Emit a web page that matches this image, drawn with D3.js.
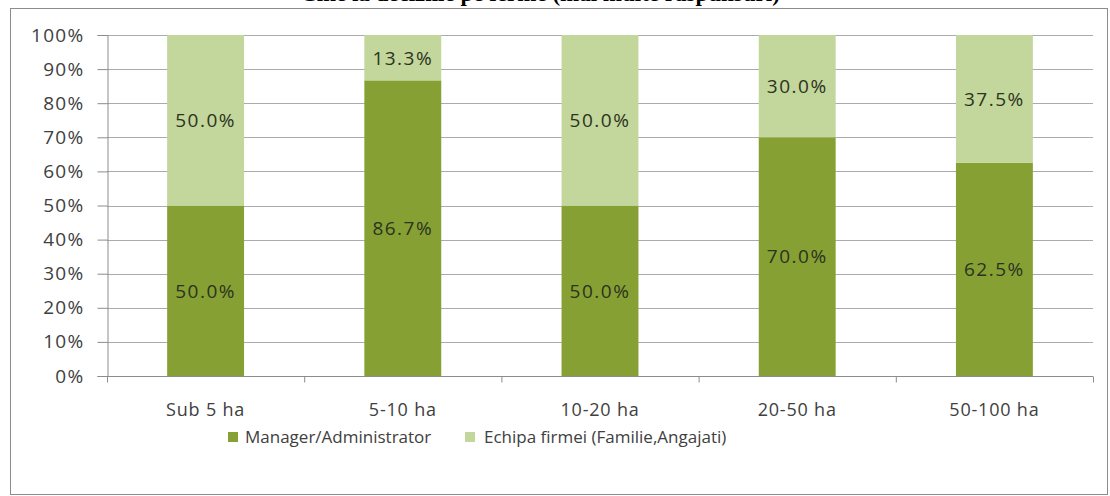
<!DOCTYPE html>
<html><head><meta charset="utf-8">
<script src="https://cdn.jsdelivr.net/npm/d3@7"></script>
<style>body{margin:0;background:#fff;} svg{display:block;}</style>
</head><body>
<svg id="chart" width="1110" height="496"></svg>
<script>
const categories = ["Sub 5 ha", "5-10 ha", "10-20 ha", "20-50 ha", "50-100 ha"];
const seriesNames = ["Manager/Administrator", "Echipa firmei (Familie,Angajati)"];
const manager = [50.0, 86.7, 50.0, 70.0, 62.5];
const echipa = [50.0, 13.3, 50.0, 30.0, 37.5];
const yTicks = [0, 10, 20, 30, 40, 50, 60, 70, 80, 90, 100];
const colors = ["#87a034", "#c3d69b"];
const titleText = "Cine ia deciziile pe ferme (mai multe raspunsuri)";

const svg = d3.select("#chart");
const font = "'Open Sans', 'Noto Sans', sans-serif";

// frame
svg.append("rect").attr("x", 10.5).attr("y", 8.5).attr("width", 1097).attr("height", 486)
  .attr("fill", "#fff").attr("stroke", "#8c8c8c").attr("stroke-width", 1);

// title (cut at the top, as in the reference)
svg.append("text").attr("x", 540).attr("y", 1).attr("text-anchor", "middle")
  .attr("font-family", "'Liberation Serif', serif").attr("font-weight", "bold")
  .attr("font-size", 23).attr("fill", "#000").text(titleText);

const x = d3.scaleBand().domain(categories).range([107, 1093]).paddingInner(0.61).paddingOuter(0.305);
const y = d3.scaleLinear().domain([0, 100]).range([376, 35]);

// gridlines
svg.append("g").selectAll("line").data(yTicks.filter(d => d > 0)).join("line")
  .attr("x1", 107).attr("x2", 1093).attr("y1", d => Math.round(y(d)) + 0.5).attr("y2", d => Math.round(y(d)) + 0.5)
  .attr("stroke", "#ababab").attr("stroke-width", 1);

// y axis
const yAxis = svg.append("g").attr("transform", "translate(107.5,0)")
  .call(d3.axisLeft(y).tickValues(yTicks).tickFormat(d => d + "%").tickSize(10).tickPadding(13));
yAxis.select(".domain").attr("stroke", "#8c8c8c");
yAxis.selectAll(".tick line").attr("stroke", "#8c8c8c");
yAxis.selectAll("text").attr("font-family", font).attr("font-size", 19)
  .attr("letter-spacing", "1.3px").attr("fill", "#404040");

// stacked bars
const rows = categories.map((c, i) => ({cat: c, Manager: manager[i], Echipa: echipa[i]}));
const stack = d3.stack().keys(["Manager", "Echipa"])(rows);
const g = svg.append("g");
stack.forEach((s, si) => {
  g.selectAll(null).data(s).join("rect")
    .attr("x", d => x(d.data.cat)).attr("width", x.bandwidth())
    .attr("y", d => y(d[1])).attr("height", d => y(d[0]) - y(d[1]))
    .attr("fill", colors[si]);
  g.selectAll(null).data(s).join("text")
    .attr("x", d => x(d.data.cat) + x.bandwidth() / 2)
    .attr("y", d => (y(d[0]) + y(d[1])) / 2)
    .attr("dy", "0.36em").attr("text-anchor", "middle")
    .attr("font-family", font).attr("font-size", 19).attr("letter-spacing", "1.5px")
    .attr("fill", "#2b3320")
    .text(d => (d[1] - d[0]).toFixed(1) + "%");
});

// x axis
const xAxis = svg.append("g").attr("transform", "translate(0,376.5)")
  .call(d3.axisBottom(d3.scalePoint().domain(d3.range(6)).range([107, 1093])).tickSize(6).tickFormat(""));
xAxis.select(".domain").attr("stroke", "#8c8c8c").attr("d", "M107,0H1093");
xAxis.selectAll(".tick line").attr("stroke", "#8c8c8c");
svg.append("g").selectAll("text").data(categories).join("text")
  .attr("x", d => x(d) + x.bandwidth() / 2).attr("y", 410).attr("dy", "0.35em")
  .attr("text-anchor", "middle").attr("font-family", font).attr("font-size", 18)
  .attr("letter-spacing", "0.8px").attr("fill", "#404040")
  .text(d => d);

// legend
const legX = [228, 465];
const leg = svg.append("g").selectAll("g").data(seriesNames).join("g")
  .attr("transform", (d, i) => `translate(${legX[i]},437)`);
leg.append("rect").attr("x", 0).attr("y", -5).attr("width", 10).attr("height", 10).attr("fill", (d, i) => colors[i]);
leg.append("text").attr("x", (d, i) => i === 0 ? 17 : 19).attr("y", 0).attr("dy", "0.35em")
  .attr("font-family", font).attr("font-size", 17).attr("fill", "#404040").text(d => d);
</script>
</body></html>
